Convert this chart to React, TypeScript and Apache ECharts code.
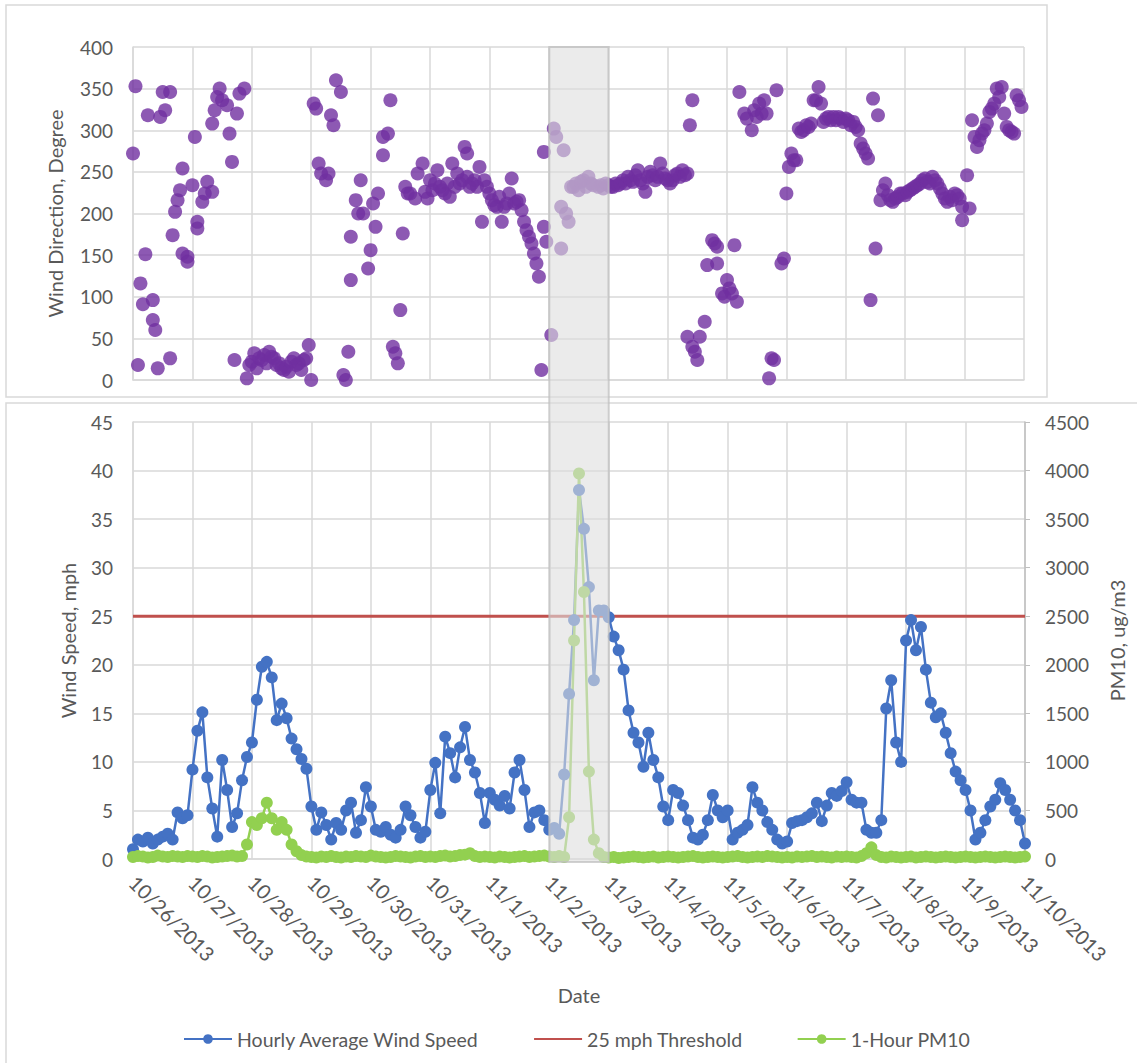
import React, { useEffect, useRef } from "react";
import * as echarts from "echarts";

// ---------- DATA ----------
const dateLabels = [
  "10/26/2013", "10/27/2013", "10/28/2013", "10/29/2013", "10/30/2013", "10/31/2013",
  "11/1/2013", "11/2/2013", "11/3/2013", "11/4/2013", "11/5/2013", "11/6/2013",
  "11/7/2013", "11/8/2013", "11/9/2013", "11/10/2013",
];

// hours between consecutive wind-speed / PM10 readings (x = index * stepHours, hours since 10/26 00:00)
const stepHours = 2;

const windSpeedMph = [
  1.0, 2.0, 1.8, 2.2, 1.6, 2.0, 2.3, 2.6, 2.0, 4.8, 4.2, 4.5,
  9.2, 13.2, 15.1, 8.4, 5.2, 2.3, 10.2, 7.1, 3.3, 4.7, 8.1, 10.5,
  12.0, 16.4, 19.8, 20.3, 18.7, 14.3, 16.0, 14.5, 12.4, 11.3, 10.3, 9.3,
  5.4, 3.0, 4.8, 3.5, 2.0, 3.7, 3.0, 5.0, 5.8, 2.7, 4.0, 7.4,
  5.4, 3.0, 2.8, 3.3, 2.5, 2.2, 3.0, 5.4, 4.5, 3.3, 2.2, 2.8,
  7.1, 9.9, 4.7, 12.6, 10.9, 8.4, 11.5, 13.6, 10.2, 8.9, 6.8, 3.7,
  6.8, 6.1, 5.5, 6.5, 5.2, 8.9, 10.2, 7.1, 3.3, 4.8, 5.0, 4.0,
  3.0, 3.2, 2.6, 8.7, 17.0, 24.6, 38.0, 34.0, 28.0, 18.4, 25.6, 25.6,
  24.9, 22.9, 21.5, 19.5, 15.3, 13.0, 12.0, 9.5, 13.0, 10.2, 8.4, 5.4,
  4.0, 7.1, 6.8, 5.5, 4.0, 2.2, 2.0, 2.5, 4.0, 6.6, 5.0, 4.3,
  5.0, 2.0, 2.7, 3.0, 3.5, 7.4, 5.8, 5.0, 3.8, 3.0, 2.0, 1.6,
  1.8, 3.7, 3.9, 4.0, 4.3, 4.7, 5.8, 3.9, 5.5, 6.8, 6.5, 7.0,
  7.9, 6.1, 5.8, 5.8, 3.0, 2.7, 2.7, 4.0, 15.5, 18.4, 12.0, 10.0,
  22.5, 24.6, 21.5, 23.9, 19.5, 16.1, 14.6, 15.0, 13.0, 10.9, 9.0, 8.1,
  7.1, 5.0, 2.0, 2.7, 4.0, 5.4, 6.1, 7.8, 7.1, 6.1, 5.0, 4.0, 1.6,
];

const pm10 = [
  20, 30, 25, 15, 20, 35, 25, 20, 30, 25, 20, 30,
  25, 20, 30, 25, 15, 20, 25, 30, 35, 25, 30, 150,
  380, 350, 420, 580, 420, 300, 380, 300, 150, 80, 40, 25,
  20, 15, 25, 20, 30, 20, 15, 25, 20, 30, 25, 20,
  35, 25, 20, 15, 20, 30, 25, 20, 15, 25, 30, 20,
  25, 20, 30, 35, 25, 30, 40, 45, 60, 30, 20, 25,
  20, 15, 25, 20, 15, 20, 25, 30, 20, 25, 30, 35,
  25, 20, 30, 20, 430, 2250, 3970, 2750, 900, 200, 60, 20,
  15, 20, 10, 15, 20, 25, 20, 15, 20, 25, 15, 20,
  25, 20, 15, 20, 25, 30, 20, 15, 20, 25, 20, 15,
  20, 25, 30, 20, 15, 20, 25, 20, 30, 25, 20, 15,
  20, 15, 25, 20, 25, 30, 20, 25, 20, 15, 25, 20,
  25, 20, 15, 30, 60, 120, 40, 20, 15, 25, 20, 15,
  20, 25, 15, 20, 25, 20, 15, 20, 25, 20, 15, 20,
  25, 20, 15, 20, 25, 20, 15, 20, 25, 20, 15, 20, 25,
];

const thresholdMph = 25;

// [hours since 10/26 00:00, wind direction in degrees]
const windDirection: [number, number][] = [
  [0, 272], [1, 353], [2, 18], [3, 116], [4, 91], [5, 151], [6, 318], [8, 96], [8, 72], [9, 60],
  [10, 14], [11, 316], [12, 346], [13, 324], [15, 346], [15, 26], [16, 174], [17, 202], [18, 216],
  [19, 228], [20, 254], [20, 152], [22, 148], [22, 142], [24, 234], [25, 292], [26, 190], [26, 182],
  [28, 214], [29, 224], [30, 238], [32, 226], [32, 308], [33, 324], [34, 340], [35, 350], [36, 336],
  [38, 330], [39, 296], [40, 262], [41, 24], [42, 320], [43, 344], [45, 350], [46, 2], [47, 18],
  [48, 22], [49, 32], [50, 14], [51, 26], [52, 24], [53, 30], [54, 20], [55, 34], [56, 28], [57, 26],
  [58, 18], [59, 20], [60, 14], [61, 12], [62, 16], [63, 10], [64, 22], [65, 26], [66, 18], [67, 20],
  [68, 12], [69, 24], [70, 26], [71, 42], [72, 0], [73, 332], [74, 326], [75, 260], [76, 248],
  [78, 240], [79, 248], [80, 318], [81, 306], [82, 360], [84, 346], [85, 6], [86, 0], [87, 34],
  [88, 120], [88, 172], [90, 216], [91, 200], [92, 240], [93, 200], [95, 134], [96, 156], [97, 212],
  [98, 184], [99, 224], [101, 292], [101, 270], [103, 296], [104, 336], [105, 40], [106, 32],
  [107, 20], [108, 84], [109, 176], [110, 232], [111, 224], [112, 224], [114, 218], [115, 248],
  [117, 260], [118, 226], [119, 218], [120, 240], [121, 228], [122, 236], [123, 252], [124, 232],
  [125, 228], [126, 224], [127, 236], [128, 220], [129, 260], [130, 232], [131, 248], [132, 236],
  [133, 240], [134, 280], [135, 272], [135, 244], [136, 232], [137, 236], [138, 240], [139, 232],
  [140, 256], [141, 190], [142, 240], [143, 232], [144, 224], [145, 216], [146, 210], [147, 208],
  [148, 220], [149, 190], [150, 208], [151, 212], [152, 224], [153, 242], [154, 212], [155, 214],
  [156, 216], [157, 204], [158, 190], [159, 180], [160, 172], [161, 164], [162, 152], [163, 140],
  [164, 124], [165, 12], [166, 274], [166, 184], [167, 166],
  [169, 54], [170, 302], [171, 292], [173, 208], [173, 158], [174, 276], [175, 200], [176, 190],
  [177, 232], [178, 232], [179, 236], [180, 228], [181, 238], [182, 240], [183, 232], [184, 244],
  [185, 236], [186, 234], [188, 232], [189, 234], [190, 230], [191, 236], [192, 234],
  [193, 232], [194, 232], [195, 236], [196, 234], [197, 236], [198, 240], [199, 236], [200, 244],
  [201, 240], [202, 238], [203, 246], [204, 252], [205, 240], [206, 236], [207, 226], [208, 244],
  [209, 250], [210, 246], [211, 240], [212, 244], [213, 260], [214, 248], [215, 242], [216, 240],
  [217, 236], [218, 240], [219, 246], [220, 248], [221, 244], [222, 252], [223, 246], [224, 248],
  [224, 52], [225, 306], [226, 336], [226, 40], [227, 34], [228, 24], [229, 52], [231, 70],
  [232, 138], [234, 168], [235, 164], [236, 160], [236, 140], [238, 104], [239, 100], [240, 120],
  [241, 110], [242, 104], [243, 162], [244, 94], [245, 346], [247, 320], [248, 314], [250, 300],
  [251, 324], [252, 316], [253, 332], [254, 320], [255, 336], [256, 320], [257, 2], [258, 26],
  [259, 24], [260, 348], [262, 140], [263, 146], [264, 224], [265, 256], [266, 272], [267, 264],
  [268, 264], [269, 302], [270, 298], [271, 300], [272, 306], [273, 304], [274, 308], [275, 336],
  [276, 336], [277, 352], [278, 332], [279, 310], [280, 314], [281, 316], [282, 312], [283, 316],
  [284, 312], [285, 316], [286, 314], [287, 310], [288, 314], [289, 312], [290, 306], [291, 310],
  [292, 304], [293, 300], [294, 284], [295, 278], [296, 272], [297, 266], [298, 96], [299, 338],
  [300, 158], [301, 318], [302, 216], [303, 228], [304, 236], [305, 222], [306, 216], [307, 214],
  [308, 218], [309, 220], [310, 224], [311, 224], [312, 222], [313, 226], [314, 228], [315, 230],
  [316, 232], [317, 234], [318, 236], [319, 240], [320, 242], [321, 238], [322, 236], [323, 244],
  [324, 240], [325, 236], [326, 230], [327, 224], [328, 218], [329, 214], [330, 220], [331, 216],
  [332, 224], [333, 222], [334, 218], [335, 208], [335, 192], [337, 246], [338, 206], [339, 312],
  [340, 292], [341, 280], [342, 288], [343, 296], [344, 300], [345, 308], [346, 322], [347, 326],
  [348, 332], [349, 350], [350, 340], [351, 352], [352, 320], [353, 304], [354, 300], [355, 298],
  [356, 296], [357, 342], [358, 336], [359, 328],
];

// highlighted event window (hours since 10/26 00:00): 11/2 00:00 – 11/3 00:00
const shadeStartHour = 168;
const shadeEndHour = 192;

// ---------- STYLE ----------
const FONT = "Lato, 'Noto Sans', sans-serif";
const TEXT = "#595959";
const GRID = "#d9d9d9";

export default function App() {
  const ref = useRef<HTMLDivElement>(null);

  useEffect(() => {
    const chart = echarts.init(ref.current!, null, { renderer: "svg" });
    const totalHours = (dateLabels.length - 1) * 24;

    const speedData = windSpeedMph.map((v, i) => [i * stepHours, v]);
    const pmData = pm10.map((v, i) => [i * stepHours, v]);
    const thresholdData = [[0, thresholdMph], [totalHours, thresholdMph]];

    const axisLabel = { color: TEXT, fontSize: 19, fontFamily: FONT };
    const nameStyle = { color: TEXT, fontSize: 20, fontFamily: FONT };

    chart.setOption({
      animation: false,
      backgroundColor: "#ffffff",
      textStyle: { fontFamily: FONT },
      grid: [
        { left: 133, right: 113, top: 47, height: 333 },
        { left: 133, right: 112, top: 422, height: 437 },
      ],
      xAxis: [
        {
          type: "value", gridIndex: 0, min: 0, max: totalHours, interval: 24,
          axisLabel: { show: false }, axisTick: { show: false },
          axisLine: { show: true, lineStyle: { color: GRID, width: 1.5 } },
          splitLine: { show: true, lineStyle: { color: GRID, width: 1.5 } },
        },
        {
          type: "value", gridIndex: 1, min: 0, max: totalHours, interval: 24,
          name: "Date", nameLocation: "middle", nameGap: 126, nameTextStyle: nameStyle,
          axisLabel: {
            ...axisLabel, fontSize: 20, rotate: -45, margin: 20,
            formatter: (v: number) => dateLabels[Math.round(v / 24)] ?? "",
          },
          axisTick: { show: false },
          axisLine: { show: true, lineStyle: { color: GRID, width: 1.5 } },
          splitLine: { show: true, lineStyle: { color: GRID, width: 1.5 } },
        },
      ],
      yAxis: [
        {
          type: "value", gridIndex: 0, min: 0, max: 400, interval: 50,
          name: "Wind Direction, Degree", nameLocation: "middle", nameGap: 68, nameTextStyle: nameStyle,
          axisLabel: { ...axisLabel, margin: 20 },
          axisTick: { show: false },
          axisLine: { show: true, lineStyle: { color: GRID, width: 1.5 } },
          splitLine: { show: true, lineStyle: { color: GRID, width: 1.5 } },
        },
        {
          type: "value", gridIndex: 1, min: 0, max: 45, interval: 5,
          name: "Wind Speed, mph", nameLocation: "middle", nameGap: 55, nameTextStyle: nameStyle,
          axisLabel: { ...axisLabel, margin: 20 },
          axisTick: { show: false },
          axisLine: { show: true, lineStyle: { color: GRID, width: 1.5 } },
          splitLine: { show: true, lineStyle: { color: GRID, width: 1.5 } },
        },
        {
          type: "value", gridIndex: 1, position: "right", min: 0, max: 4500, interval: 500,
          name: "PM10, ug/m3", nameLocation: "middle", nameGap: 82, nameTextStyle: nameStyle,
          axisLabel: { ...axisLabel, margin: 20, formatter: (v: number) => String(v) },
          axisTick: { show: true, length: 5, lineStyle: { color: "#bfbfbf" } },
          axisLine: { show: true, lineStyle: { color: "#bfbfbf", width: 1.5 } },
          splitLine: { show: false },
        },
      ],
      legend: {
        data: [
          { name: "Hourly Average Wind Speed" },
          { name: "25 mph Threshold", itemStyle: { opacity: 0 } },
          { name: "1-Hour PM10" },
        ],
        left: 178,
        top: 1024,
        itemWidth: 48,
        itemHeight: 12,
        itemGap: 54,
        textStyle: { color: TEXT, fontSize: 19.5, fontFamily: FONT },
      },
      series: [
        {
          name: "Wind Direction",
          type: "scatter",
          xAxisIndex: 0, yAxisIndex: 0,
          data: windDirection,
          symbol: "circle",
          symbolSize: 14,
          itemStyle: { color: "#7030A0" },
        },
        {
          name: "25 mph Threshold",
          type: "line",
          xAxisIndex: 1, yAxisIndex: 1,
          data: thresholdData,
          symbol: "none",
          lineStyle: { color: "#C0504D", width: 3 },
          itemStyle: { color: "#C0504D" },
        },
        {
          name: "Hourly Average Wind Speed",
          type: "line",
          xAxisIndex: 1, yAxisIndex: 1,
          data: speedData,
          symbol: "circle",
          symbolSize: 12,
          lineStyle: { color: "#4472C4", width: 2.5 },
          itemStyle: { color: "#4472C4" },
        },
        {
          name: "1-Hour PM10",
          type: "line",
          xAxisIndex: 1, yAxisIndex: 2,
          data: pmData,
          symbol: "circle",
          symbolSize: 12,
          lineStyle: { color: "#92D050", width: 2.5 },
          itemStyle: { color: "#92D050" },
        },
      ],
    });

    // frames and the shaded event window, positioned through the axes' scales
    const xa = chart.convertToPixel({ xAxisIndex: 1 }, shadeStartHour) as number;
    const xb = chart.convertToPixel({ xAxisIndex: 1 }, shadeEndHour) as number;
    const yTop = chart.convertToPixel({ yAxisIndex: 0 }, 400) as number;
    const yBottom = chart.convertToPixel({ yAxisIndex: 1 }, 0) as number;

    chart.setOption({
      graphic: [
        {
          type: "rect", z: 0, silent: true,
          shape: { x: 6, y: 5, width: 1041, height: 392 },
          style: { fill: "none", stroke: GRID, lineWidth: 1.5 },
        },
        {
          type: "rect", z: 0, silent: true,
          shape: { x: 6, y: 403, width: 1200, height: 800 },
          style: { fill: "none", stroke: GRID, lineWidth: 1.5 },
        },
        {
          type: "rect", z: 100, silent: true,
          shape: { x: xa, y: yTop, width: xb - xa, height: yBottom - yTop + 3 },
          style: { fill: "rgba(222,222,222,0.6)", stroke: "rgba(190,190,190,0.7)", lineWidth: 2 },
        },
      ],
    });

    return () => chart.dispose();
  }, []);

  return (
    <div
      ref={ref}
      style={{ position: "fixed", left: 0, top: 0, width: 1137, height: 1063, background: "#fff" }}
    />
  );
}
